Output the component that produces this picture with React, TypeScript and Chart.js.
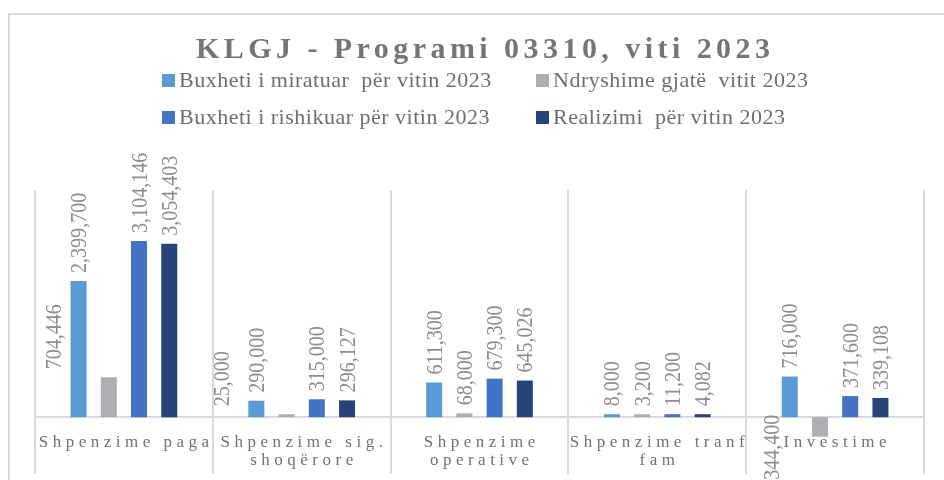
import React, { useEffect, useRef } from 'react';
import { Chart, registerables } from 'chart.js';

Chart.register(...registerables);

const chartTitle = 'KLGJ - Programi 03310, viti 2023';
const categoryLines = [
  ['Shpenzime paga'],
  ['Shpenzime sig.', 'shoqërore'],
  ['Shpenzime', 'operative'],
  ['Shpenzime tranf', 'fam'],
  ['Investime'],
];
const seriesNames = [
  'Buxheti i miratuar  për vitin 2023',
  'Ndryshime gjatë  vitit 2023',
  'Buxheti i rishikuar për vitin 2023',
  'Realizimi  për vitin 2023',
];
const miratuar = [2399700, 290000, 611300, 8000, 716000];
const ndryshime = [704446, 25000, 68000, 3200, -344400];
const rishikuar = [3104146, 315000, 679300, 11200, 371600];
const realizimi = [3054403, 296127, 645026, 4082, 339108];
const yMin = -1000000;
const yMax = 4000000;

const seriesColors = ['#5B9BD5', '#AEAFB3', '#4472C4', '#264478'];
const FONT = '"Liberation Serif", "Times New Roman", serif';

// manual label nudges (dataset index - category index -> [dx, dy])
const labelNudge: Record<string, [number, number]> = {
  '1-0': [-55, 0],
  '1-1': [-65, 0],
  '1-4': [-48, -30],
};

function drawSpaced(ctx: CanvasRenderingContext2D, text: string, cx: number, y: number, spacing: number, align: 'center' | 'left' = 'center') {
  ctx.save();
  const n = Array.from(text).length;
  const w0 = ctx.measureText(text).width;
  const full = w0 + spacing * (n - 1);
  if ('letterSpacing' in ctx) (ctx as any).letterSpacing = spacing + 'px';
  ctx.textAlign = 'left';
  ctx.fillText(text, align === 'center' ? cx - full / 2 : cx, y);
  ctx.restore();
}

const decorPlugin = {
  id: 'decor',
  beforeDraw(chart: any) {
    const ctx = chart.ctx as CanvasRenderingContext2D;
    ctx.save();
    ctx.fillStyle = '#ffffff';
    ctx.fillRect(0, 0, chart.width, chart.height);
    ctx.strokeStyle = '#D9D9D9';
    ctx.lineWidth = 2;
    ctx.strokeRect(9, 14, chart.width + 20, chart.height + 20);

    // title
    ctx.fillStyle = '#757575';
    ctx.font = `bold 30px ${FONT}`;
    ctx.textBaseline = 'alphabetic';
    const n = Array.from(chartTitle).length;
    const w0 = ctx.measureText(chartTitle).width;
    const spacing = Math.max(0, (574 - w0) / (n - 1));
    drawSpaced(ctx, chartTitle, 483, 58, spacing);

    // legend
    const items = [
      { x: 162, y: 87 },
      { x: 536, y: 87 },
      { x: 162, y: 124 },
      { x: 536, y: 124 },
    ];
    ctx.font = `22px ${FONT}`;
    items.forEach((it, i) => {
      ctx.fillStyle = seriesColors[i];
      ctx.fillRect(it.x, it.y - 13, 13, 13);
      ctx.fillStyle = '#6E6E6E';
      drawSpaced(ctx, seriesNames[i], it.x + 17, it.y, 0.5, 'left');
    });
    ctx.restore();
  },
  beforeDatasetsDraw(chart: any) {
    const ctx = chart.ctx as CanvasRenderingContext2D;
    const y0 = chart.scales.y.getPixelForValue(0);
    const area = chart.chartArea;
    ctx.save();
    ctx.strokeStyle = '#D9D9D9';
    ctx.lineWidth = 2;
    ctx.beginPath();
    ctx.moveTo(area.left, Math.round(y0));
    ctx.lineTo(area.right, Math.round(y0));
    ctx.stroke();
    ctx.restore();
  },
  afterDatasetsDraw(chart: any) {
    const ctx = chart.ctx as CanvasRenderingContext2D;
    const xs = chart.scales.x;
    const y0 = chart.scales.y.getPixelForValue(0);
    ctx.save();
    // category labels
    ctx.fillStyle = '#727272';
    ctx.font = `17px ${FONT}`;
    ctx.textBaseline = 'alphabetic';
    categoryLines.forEach((lines, i) => {
      const cx = xs.getPixelForValue(i);
      lines.forEach((line, j) => {
        drawSpaced(ctx, line, cx, y0 + 30 + j * 18, 4.5);
      });
    });
    // data labels
    ctx.fillStyle = '#8E8E8E';
    ctx.font = `23px ${FONT}`;
    chart.data.datasets.forEach((ds: any, di: number) => {
      const meta = chart.getDatasetMeta(di);
      meta.data.forEach((bar: any, i: number) => {
        const v = ds.data[i];
        const text = v.toLocaleString('en-US');
        const nudge = labelNudge[`${di}-${i}`] || [0, 0];
        const x = bar.x + nudge[0];
        ctx.save();
        if (v >= 0) {
          ctx.translate(x, bar.y - 8 + nudge[1]);
          ctx.rotate(-Math.PI / 2);
          ctx.scale(0.87, 1);
          ctx.textAlign = 'left';
        } else {
          ctx.translate(x, bar.y + 8 + nudge[1]);
          ctx.rotate(-Math.PI / 2);
          ctx.scale(0.87, 1);
          ctx.textAlign = 'right';
        }
        ctx.textBaseline = 'alphabetic';
        ctx.fillText(text, 0, 7.5);
        ctx.restore();
      });
    });
    ctx.restore();
  },
};

export default function App() {
  const ref = useRef<HTMLCanvasElement | null>(null);
  useEffect(() => {
    if (!ref.current) return;
    const chart = new Chart(ref.current, {
      type: 'bar',
      data: {
        labels: categoryLines,
        datasets: [miratuar, ndryshime, rishikuar, realizimi].map((d, i) => ({
          label: seriesNames[i],
          data: d,
          backgroundColor: seriesColors[i],
          borderWidth: 0,
          minBarLength: 3,
          categoryPercentage: 0.68,
          barPercentage: 0.53,
        })),
      },
      options: {
        responsive: false,
        animation: false,
        devicePixelRatio: 1,
        layout: { padding: { left: 35, right: 20, top: 190, bottom: 6 } },
        plugins: {
          legend: { display: false },
          title: { display: false },
          tooltip: { enabled: false },
        },
        scales: {
          x: {
            display: true,
            ticks: { display: false },
            grid: { display: true, offset: true, color: '#D9D9D9', lineWidth: 2, drawTicks: false },
            border: { display: false },
          },
          y: {
            display: false,
            min: yMin,
            max: yMax,
          },
        },
      },
      plugins: [decorPlugin],
    });
    return () => chart.destroy();
  }, []);
  return (
    <div style={{ position: 'fixed', left: 0, top: 0, width: 944, height: 480, background: '#fff' }}>
      <canvas ref={ref} width={944} height={480} style={{ display: 'block', width: 944, height: 480 }} />
    </div>
  );
}
